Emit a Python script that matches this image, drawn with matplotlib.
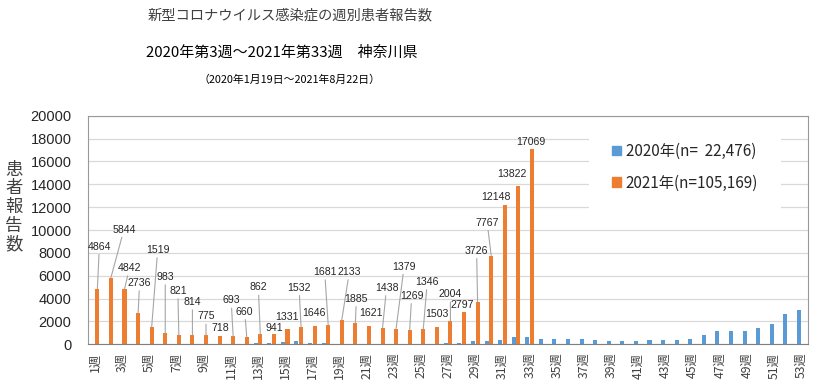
import matplotlib.pyplot as plt
from matplotlib.patches import Patch

plt.rcParams['font.family'] = ['Noto Sans CJK JP', 'DejaVu Sans']

# weekly counts
weeks_2020 = list(range(3, 54))
cases_2020 = [1, 0, 2, 4, 6, 10, 14, 20, 30, 50, 80,
              140, 230, 260, 140, 120, 50, 25, 15, 20, 25, 20, 25, 60,
              130, 140, 250, 260, 350, 620, 610,
              500, 490, 450, 440, 350, 260, 330, 250, 340, 340, 360, 500,
              790, 1180, 1190, 1180, 1430, 1820, 2610, 3010]

weeks_2021 = list(range(1, 34))
cases_2021 = [4864, 5844, 4842, 2736, 1519, 983, 821, 814, 775, 718, 693, 660,
              862, 941, 1331, 1532, 1646, 1681, 2133, 1885, 1621, 1438, 1379,
              1269, 1346, 1503, 2004, 2797, 3726, 7767, 12148, 13822, 17069]

tick_weeks = list(range(1, 54, 2))
tick_labels = [f'{w}週' for w in tick_weeks]
y_ticks = list(range(0, 20001, 2000))

label_2020 = '2020年(n=  22,476)'
label_2021 = '2021年(n=105,169)'

# where each value label sits relative to its bar top (pixels, up positive)
label_offsets = [(2, 42), (13, 48), (5, 21), (1.5, 30), (6, 77), (0, 56), (-1, 44),
                 (0, 33), (0, 19), (1, 8), (-2, 36), (-2, 25), (-2, 47), (0, 6),
                 (-1, 12), (-2, 39), (-0.5, 12.5), (-3.5, 53), (7.5, 48), (1, 24),
                 (2, 13), (4, 40), (8, 62), (2, 34), (4, 47), (0, 13), (0, 27),
                 (-2, 7), (-1, 51), (-4, 33), (-8.5, 8), (-6, 12), (-1, 7.5)]

blue = '#5B9BD5'
orange = '#ED7D31'

fig = plt.figure(figsize=(8.15, 3.87), dpi=100)
ax = fig.add_axes([0.1083, 0.1103, 0.8831, 0.5907])

w = 0.3
ax.bar([x - 0.17 for x in weeks_2020], cases_2020, width=w, color=blue, zorder=2)
ax.bar([x + 0.17 for x in weeks_2021], cases_2021, width=w, color=orange, zorder=2)

for wk, v, (dx, dy) in zip(weeks_2021, cases_2021, label_offsets):
    arrow = None
    if dy > 14:
        arrow = dict(arrowstyle='-', color='#a6a6a6', lw=0.8, shrinkA=0, shrinkB=0)
    ax.annotate(str(v), xy=(wk + 0.17, v), xytext=(dx, dy), textcoords='offset pixels',
                ha='center', va='center', fontsize=7.6, family='Liberation Sans',
                color='#262626', arrowprops=arrow, zorder=3)

ax.set_xlim(0.5, 53.5)
ax.set_ylim(0, 20000)
ax.set_xticks(tick_weeks)
ax.set_xticklabels(tick_labels, rotation=90, fontsize=8.8, color='#404040')
ax.set_yticks(y_ticks)
ax.set_yticklabels([str(t) for t in y_ticks], fontsize=10.5, family='Liberation Sans',
                   color='#262626')
ax.tick_params(axis='x', length=0, pad=6)
ax.tick_params(axis='y', length=0, pad=12)
ax.grid(axis='y', color='#d9d9d9', lw=0.9)
ax.set_axisbelow(True)
for s in ['left', 'top', 'right']:
    ax.spines[s].set_color('#999999')
ax.spines['bottom'].set_color('#7f7f7f')

leg = ax.legend(handles=[Patch(color=blue, label=label_2020),
                         Patch(color=orange, label=label_2021)],
                loc='upper left', bbox_to_anchor=(0.696, 0.981), borderaxespad=0,
                fontsize=11, frameon=True, fancybox=False, framealpha=1,
                edgecolor='none', facecolor='white', handlelength=0.6,
                handleheight=0.6, handletextpad=0.3, labelspacing=0.95,
                borderpad=1.5)
for t in leg.get_texts():
    t.set_color('#262626')

fig.text(290 / 815, 1 - 15 / 387, '新型コロナウイルス感染症の週別患者報告数',
         ha='center', va='center', fontsize=10.3, color='#404040')
fig.text(282 / 815, 1 - 53 / 387, '2020年第3週～2021年第33週　神奈川県',
         ha='center', va='center', fontsize=10.8, color='black')
fig.text(290 / 815, 1 - 80 / 387, '（2020年1月19日～2021年8月22日）',
         ha='center', va='center', fontsize=7.8, color='black')
fig.text(14 / 815, 1 - 207 / 387, '\n'.join('患者報告数'), ha='center', va='center',
         fontsize=12.5, color='#404040', linespacing=1.05)

fig.savefig('out.png', dpi=100)
